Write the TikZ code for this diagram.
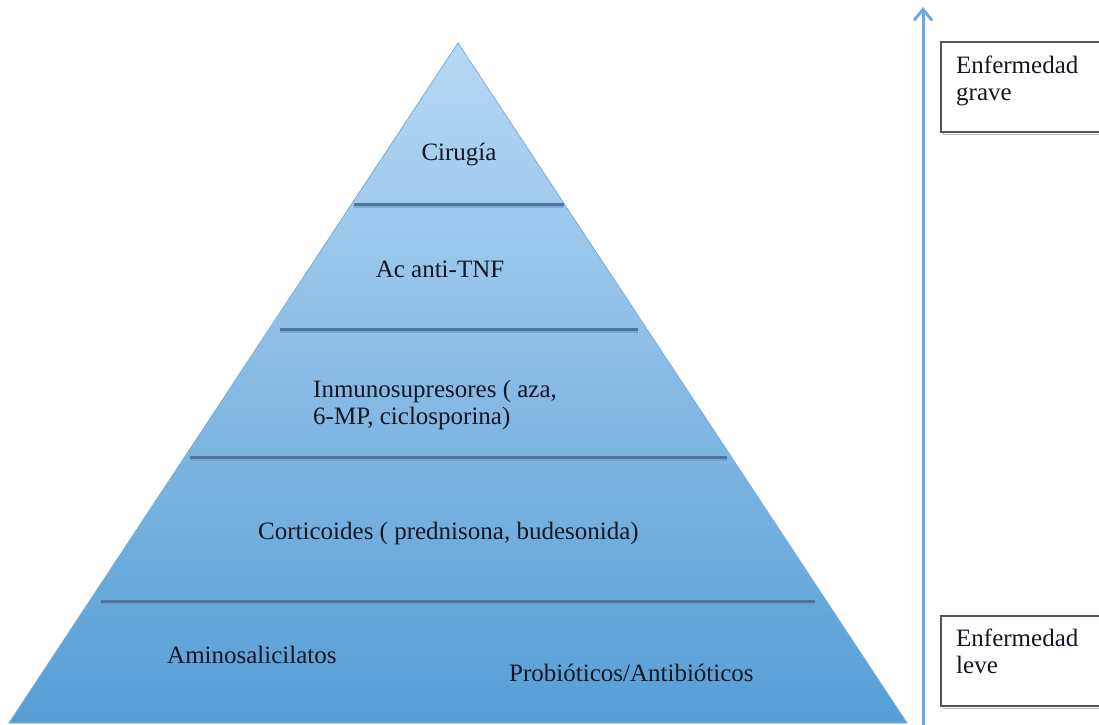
\documentclass[tikz,border=0pt]{standalone}
\usepackage{fontspec}
\setmainfont{Liberation Serif}
\usetikzlibrary{arrows.meta,shadings}
\definecolor{pyrtop}{RGB}{184,216,244}
\definecolor{pyrbot}{RGB}{86,158,214}
\definecolor{pyredge}{RGB}{120,170,215}
\definecolor{sepline}{RGB}{76,118,158}
\definecolor{sepshadow}{RGB}{110,150,190}
\definecolor{arrowblue}{RGB}{111,168,218}
\definecolor{txt}{RGB}{22,22,34}
\definecolor{boxedge}{RGB}{85,85,85}
\tikzset{
  lbl/.style={text=txt, inner sep=0pt, font=\fontsize{25}{27}\selectfont},
  sep/.style={draw=sepline, line width=3pt},
  sepsh/.style={draw=sepshadow, line width=2pt, opacity=0.6},
  sidebox/.style={draw=boxedge, line width=2pt, fill=white},
  sideshadow/.style={draw=gray!55, line width=1.5pt},
}
\begin{document}
\begin{tikzpicture}[x=1pt,y=-1pt]
\useasboundingbox (0,0) rectangle (1099,724);
\clip (0,0) rectangle (1099,724);
% pyramid
\coordinate (apex) at (458,43);
\coordinate (bl) at (9,723);
\coordinate (br) at (907,723);
\shade[top color=pyrtop, bottom color=pyrbot, draw=pyredge, line width=0.8pt]
  (apex) -- (br) -- (bl) -- cycle;
% separators
\coordinate (s1l) at (354,204); \coordinate (s1r) at (564,204);
\coordinate (s2l) at (280,329); \coordinate (s2r) at (638,329);
\coordinate (s3l) at (190,457); \coordinate (s3r) at (727,457);
\coordinate (s4l) at (101,601); \coordinate (s4r) at (815,601);
\foreach \a/\b in {s1l/s1r,s2l/s2r,s3l/s3r,s4l/s4r}{
  \draw[sepsh] ([yshift=-3pt]\a) -- ([yshift=-3pt]\b);
  \draw[sep] (\a) -- (\b);
}
% labels
\node[lbl, anchor=base] (cir) at (459,160) {Cirugía};
\node[lbl, anchor=base] (tnf) at (440,277) {Ac anti-TNF};
\node[lbl, anchor=base west, align=left] (inm) at (313,424) {Inmunosupresores ( aza,\\6-MP, ciclosporina)};
\node[lbl, anchor=base west] (cor) at (258,539) {Corticoides ( prednisona, budesonida)};
\node[lbl, anchor=base west] (ami) at (167,663) {Aminosalicilatos};
\node[lbl, anchor=base west] (pro) at (509,681) {Probióticos/Antibióticos};
% arrow
\coordinate (abot) at (923,726);
\coordinate (atop) at (923,7);
\draw[arrowblue, line width=3pt, -{Straight Barb[length=11pt,width=18pt]}] (abot) -- (atop);
% side boxes
\draw[sideshadow] (943,134.5) -- (1110,134.5);
\draw[sideshadow] (943.5,44) -- (943.5,134);
\draw[sidebox] (941,42) rectangle (1110,132);
\node[lbl, anchor=base west, align=left] (grave) at (956,100) {Enfermedad\\grave};
\draw[sideshadow] (943,708.5) -- (1110,708.5);
\draw[sidebox] (941,616) rectangle (1110,706);
\node[lbl, anchor=base west, align=left] (leve) at (956,673) {Enfermedad\\leve};
\end{tikzpicture}
\end{document}
